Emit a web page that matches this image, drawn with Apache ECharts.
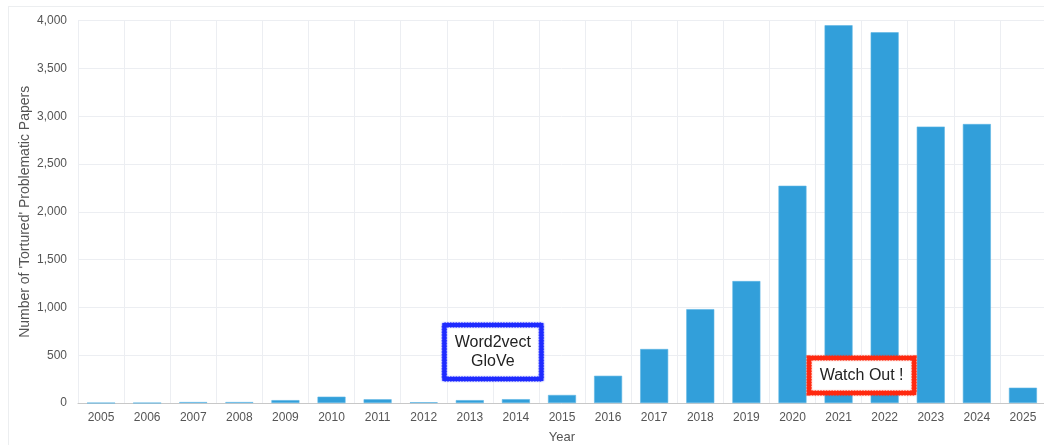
<!DOCTYPE html>
<html>
<head>
<meta charset="utf-8">
<script src="https://cdn.jsdelivr.net/npm/echarts@6/dist/echarts.min.js"></script>
<style>
html,body{margin:0;padding:0;background:#fff;}
#card{position:absolute;left:8px;top:6px;width:1100px;height:500px;border:1px solid #eceef0;box-sizing:border-box;}
#chart{position:absolute;left:0;top:0;width:1044px;height:445px;}
</style>
</head>
<body>
<div id="card"></div>
<div id="chart"></div>
<script>
const years = ['2005','2006','2007','2008','2009','2010','2011','2012','2013','2014','2015','2016','2017','2018','2019','2020','2021','2022','2023','2024','2025'];
const papers = [0,0,10,10,30,66,39,8,30,40,84,285,565,982,1276,2273,3952,3879,2892,2919,160];
const yTicks = [0,500,1000,1500,2000,2500,3000,3500,4000];
const notes = [
  {text:'Word2vect\nGloVe', from:'2013', to:'2014', y:533, w:97, h:54, color:'#1f2bff'},
  {text:'Watch Out !', from:'2021', to:'2022', y:287, w:105, h:35, color:'#ff2a10'}
];

const chart = echarts.init(document.getElementById('chart'), null, {renderer:'canvas'});
const font = '"Liberation Sans", Arial, sans-serif';
chart.setOption({
  animation:false,
  backgroundColor:'transparent',
  grid:{left:78, right:-2, top:20.7, bottom:42, containLabel:false, outerBoundsMode:'none'},
  xAxis:{
    type:'category', data:years, boundaryGap:true,
    name:'Year', nameLocation:'middle', nameGap:28, nameMoveOverlap:false,
    nameTextStyle:{color:'#555', fontSize:13, fontFamily:font},
    axisLine:{show:true, lineStyle:{color:'#c8c8c8'}},
    axisTick:{show:false},
    axisLabel:{color:'#555', fontSize:12, fontFamily:font, margin:9, interval:0},
    splitLine:{show:true, interval:0, lineStyle:{color:'#eceef2'}}
  },
  yAxis:{
    type:'value', min:yTicks[0], max:yTicks[yTicks.length-1], interval:500,
    name:"Number of 'Tortured' Problematic Papers", nameLocation:'middle', nameGap:46, nameMoveOverlap:false,
    nameTextStyle:{color:'#555', fontSize:14, fontFamily:font},
    axisLine:{show:false}, axisTick:{show:false},
    axisLabel:{color:'#555', fontSize:12, fontFamily:font, margin:11,
      formatter:v=>v.toLocaleString('en-US')},
    splitLine:{show:true, lineStyle:{color:'#eceef2'}}
  },
  series:[{
    type:'bar', data:papers, barWidth:28,
    itemStyle:{color:'#329fda', borderColor:'#5cb5e4', borderWidth:0.6}
  }]
});

function drawNotes(){
  const g = [];
  notes.forEach(n=>{
    const a = chart.convertToPixel({gridIndex:0}, [years.indexOf(n.from), n.y]);
    const b = chart.convertToPixel({gridIndex:0}, [years.indexOf(n.to), n.y]);
    const cx = (a[0]+b[0])/2, cy = a[1];
    const x = cx-n.w/2, y = cy-n.h/2;
    g.push({type:'rect', shape:{x:x, y:y, width:n.w, height:n.h}, z:100,
      style:{fill:'#fff', stroke:n.color, lineWidth:4, shadowBlur:2, shadowColor:n.color}});
    g.push({type:'rect', shape:{x:x, y:y, width:n.w, height:n.h}, z:101,
      style:{fill:'none', stroke:n.color, lineWidth:5.5, lineDash:[1.5,1.3], opacity:0.75}});
    g.push({type:'text', x:cx, y:cy, z:102,
      style:{text:n.text, fill:'#222', font:'16px ' + font, align:'center', verticalAlign:'middle', lineHeight:19}});
  });
  chart.setOption({graphic:g});
}
drawNotes();
</script>
</body>
</html>
